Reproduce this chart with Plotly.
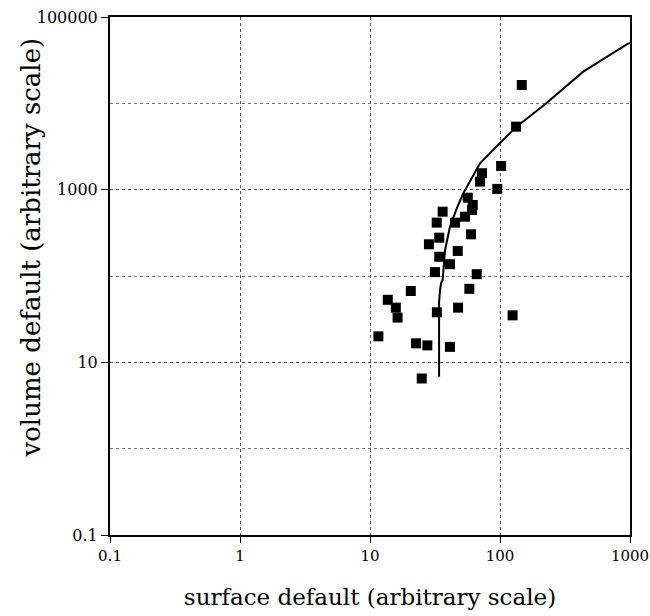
import plotly.graph_objects as go

# scatter data (surface default, volume default)
pts_x = [147, 133, 102, 72.7, 70.2, 95.3, 56.5, 61.7, 60.9, 36.2, 53.8, 32.6, 45.1,
         59.8, 34.1, 28.4, 47.3, 34.1, 41.2, 31.6, 66.2, 20.6, 58.1, 13.7, 15.8,
         16.3, 32.7, 47.6, 11.6, 22.6, 27.6, 41.2, 25.0, 125]
pts_y = [16300, 5370, 1880, 1550, 1240, 1020, 807, 665, 582, 556, 486, 415, 415,
         304, 278, 233, 195, 167, 137, 111, 105, 67, 71, 53, 43,
         33, 38, 43, 20, 16.6, 15.7, 15.1, 6.5, 35]

# curve
curve_x = [34.0, 34.0, 34.6, 35.2, 36.2, 37.8, 41.2, 43.8, 46.5, 52.2, 70.2, 99.5,
           134, 222, 290, 437, 944, 1000]
curve_y = [6.8, 50, 69, 83, 90, 200, 372, 486, 608, 908, 2022, 3444,
           5370, 9750, 13650, 23300, 48300, 50000]

x_ticks = [0.1, 1, 10, 100, 1000]
x_labels = ["0.1", "1", "10", "100", "1000"]
y_ticks = [0.1, 10, 1000, 100000]
y_labels = ["0.1", "10", "1000", "100000"]
y_minor = [1, 100, 10000]

font = "DejaVu Serif"

fig = go.Figure()
fig.add_trace(go.Scatter(x=curve_x, y=curve_y, mode="lines",
                         line=dict(color="black", width=2), showlegend=False))
fig.add_trace(go.Scatter(x=pts_x, y=pts_y, mode="markers",
                         marker=dict(symbol="square", size=10, color="black"),
                         showlegend=False))

fig.update_layout(
    width=650, height=616,
    margin=dict(l=110, r=20, t=17, b=81),
    paper_bgcolor="white", plot_bgcolor="white",
    font=dict(family=font, color="black", size=15),
    annotations=[dict(text="volume default (arbitrary scale)", textangle=-90,
                      xref="paper", yref="paper", x=-0.152, y=0.555,
                      xanchor="center", yanchor="middle", showarrow=False,
                      font=dict(family=font, size=26, color="black"))],
)
fig.update_xaxes(
    type="log", range=[-1, 3], automargin=False,
    tickmode="array", tickvals=x_ticks, ticktext=x_labels,
    ticks="outside", ticklen=6, tickcolor="black", tickwidth=1,
    showline=True, mirror=True, linecolor="black", linewidth=2,
    showgrid=True, gridcolor="#555555", griddash="dot", gridwidth=1,
    zeroline=False,
    tickfont=dict(family=font, size=15),
    title=dict(text="surface default (arbitrary scale)", font=dict(family=font, size=23), standoff=25),
)
fig.update_yaxes(
    type="log", range=[-1, 5], automargin=False,
    tickmode="array", tickvals=y_ticks, ticktext=y_labels,
    ticks="outside", ticklen=7, tickcolor="black", tickwidth=1,
    showline=True, mirror=True, linecolor="black", linewidth=2,
    showgrid=True, gridcolor="#555555", griddash="dot", gridwidth=1,
    minor=dict(tickvals=y_minor, showgrid=True, gridcolor="#777777", griddash="dot", gridwidth=1, ticks=""),
    zeroline=False,
    tickfont=dict(family=font, size=16),
)

fig.write_html("out.html")
